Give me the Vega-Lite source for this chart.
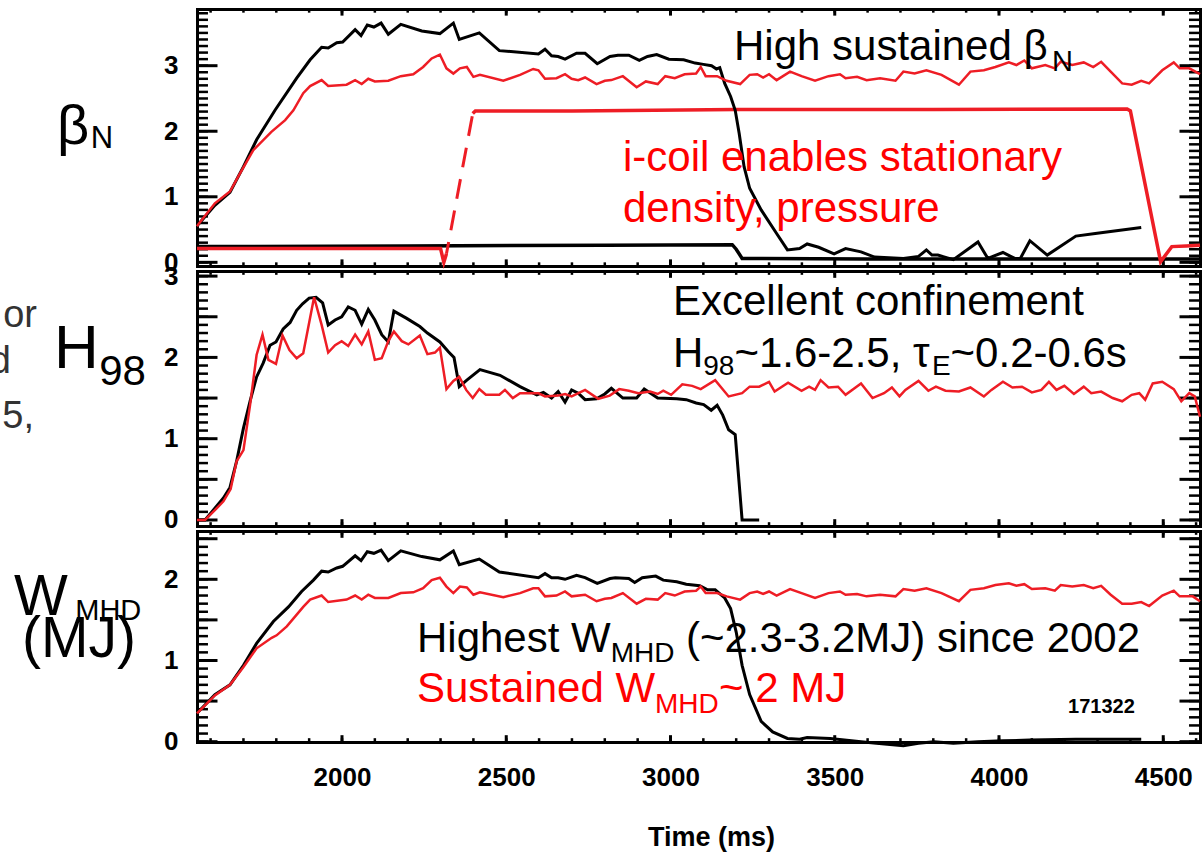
{
  "$schema": "https://vega.github.io/schema/vega-lite/v6.json",
  "autosize": "none",
  "width": 1003,
  "height": 733,
  "padding": {"left": 197, "top": 9, "right": 2, "bottom": 110},
  "background": "white",
  "config": {
    "view": {"stroke": null},
    "axis": {"grid": false, "domainColor": "#000", "domainWidth": 3, "domainCap": "square", "ticks": false, "tickSize": 0, "labelColor": "#000", "labelFont": "Liberation Sans", "labelFontSize": 26, "labelFontWeight": "bold", "labelFlush": false, "labelOverlap": false, "zindex": 1, "titleColor": "#000", "title": null}
  },
  "datasets": {
    "xmaj": [{"t":2000},{"t":2500},{"t":3000},{"t":3500},{"t":4000},{"t":4500}],
    "xmin": [{"t":1600},{"t":1700},{"t":1800},{"t":1900},{"t":2000},{"t":2100},{"t":2200},{"t":2300},{"t":2400},{"t":2500},{"t":2600},{"t":2700},{"t":2800},{"t":2900},{"t":3000},{"t":3100},{"t":3200},{"t":3300},{"t":3400},{"t":3500},{"t":3600},{"t":3700},{"t":3800},{"t":3900},{"t":4000},{"t":4100},{"t":4200},{"t":4300},{"t":4400},{"t":4500},{"t":4600}],
    "y1maj": [{"v":0},{"v":1},{"v":2},{"v":3}],
    "y1min": [{"v":0},{"v":0.1},{"v":0.2},{"v":0.3},{"v":0.4},{"v":0.5},{"v":0.6},{"v":0.7},{"v":0.8},{"v":0.9},{"v":1},{"v":1.1},{"v":1.2},{"v":1.3},{"v":1.4},{"v":1.5},{"v":1.6},{"v":1.7},{"v":1.8},{"v":1.9},{"v":2},{"v":2.1},{"v":2.2},{"v":2.3},{"v":2.4},{"v":2.5},{"v":2.6},{"v":2.7},{"v":2.8},{"v":2.9},{"v":3},{"v":3.1},{"v":3.2},{"v":3.3},{"v":3.4},{"v":3.5},{"v":3.6},{"v":3.7},{"v":3.8}],
    "y2maj": [{"v":0},{"v":0.5},{"v":1},{"v":1.5},{"v":2},{"v":2.5},{"v":3}],
    "y2min": [{"v":0},{"v":0.1},{"v":0.2},{"v":0.3},{"v":0.4},{"v":0.5},{"v":0.6},{"v":0.7},{"v":0.8},{"v":0.9},{"v":1},{"v":1.1},{"v":1.2},{"v":1.3},{"v":1.4},{"v":1.5},{"v":1.6},{"v":1.7},{"v":1.8},{"v":1.9},{"v":2},{"v":2.1},{"v":2.2},{"v":2.3},{"v":2.4},{"v":2.5},{"v":2.6},{"v":2.7},{"v":2.8},{"v":2.9},{"v":3}],
    "y3maj": [{"v":0},{"v":0.5},{"v":1},{"v":1.5},{"v":2},{"v":2.5}],
    "y3min": [{"v":0},{"v":0.1},{"v":0.2},{"v":0.3},{"v":0.4},{"v":0.5},{"v":0.6},{"v":0.7},{"v":0.8},{"v":0.9},{"v":1},{"v":1.1},{"v":1.2},{"v":1.3},{"v":1.4},{"v":1.5},{"v":1.6},{"v":1.7},{"v":1.8},{"v":1.9},{"v":2},{"v":2.1},{"v":2.2},{"v":2.3},{"v":2.4},{"v":2.5}],
    "bnBlack": [{"t":1558.6,"v":0.57},{"t":1563,"v":0.58},{"t":1613,"v":0.87},{"t":1659,"v":1.07},{"t":1700,"v":1.46},{"t":1740,"v":1.87},{"t":1796,"v":2.32},{"t":1862,"v":2.81},{"t":1903,"v":3.09},{"t":1938,"v":3.28},{"t":1958,"v":3.27},{"t":1984,"v":3.35},{"t":2002,"v":3.36},{"t":2040,"v":3.55},{"t":2058,"v":3.46},{"t":2077,"v":3.62},{"t":2097,"v":3.59},{"t":2119,"v":3.65},{"t":2141,"v":3.48},{"t":2179,"v":3.63},{"t":2243,"v":3.53},{"t":2298,"v":3.49},{"t":2339,"v":3.65},{"t":2357,"v":3.40},{"t":2418,"v":3.50},{"t":2479,"v":3.23},{"t":2598,"v":3.18},{"t":2618,"v":3.25},{"t":2638,"v":3.15},{"t":2658,"v":3.14},{"t":2679,"v":3.10},{"t":2714,"v":3.19},{"t":2740,"v":3.19},{"t":2777,"v":3.03},{"t":2816,"v":3.14},{"t":2840,"v":3.16},{"t":2873,"v":3.16},{"t":2905,"v":3.08},{"t":2930,"v":3.14},{"t":2958,"v":3.17},{"t":2995,"v":3.10},{"t":3040,"v":3.09},{"t":3075,"v":3.04},{"t":3100,"v":3.02},{"t":3125,"v":3.00},{"t":3140,"v":2.95},{"t":3150,"v":2.97},{"t":3165,"v":2.73},{"t":3183,"v":2.53},{"t":3197,"v":2.32},{"t":3209,"v":1.97},{"t":3224,"v":1.46},{"t":3241,"v":1.13},{"t":3276,"v":0.80},{"t":3323,"v":0.44},{"t":3356,"v":0.19},{"t":3393,"v":0.21},{"t":3416,"v":0.28},{"t":3451,"v":0.23},{"t":3498,"v":0.13},{"t":3533,"v":0.21},{"t":3580,"v":0.16},{"t":3621,"v":0.08},{"t":3709,"v":0.06},{"t":3755,"v":0.09},{"t":3779,"v":0.19},{"t":3796,"v":0.11},{"t":3814,"v":0.11},{"t":3861,"v":0.04},{"t":3936,"v":0.31},{"t":3966,"v":0.06},{"t":4012,"v":0.15},{"t":4048,"v":0.06},{"t":4065,"v":0.06},{"t":4094,"v":0.33},{"t":4147,"v":0.11},{"t":4234,"v":0.40},{"t":4293,"v":0.44},{"t":4433,"v":0.53}],
    "bnRed": [{"t":1558.6,"v":0.55},{"t":1563,"v":0.58},{"t":1613,"v":0.90},{"t":1659,"v":1.08},{"t":1690,"v":1.36},{"t":1730,"v":1.71},{"t":1785,"v":1.99},{"t":1827,"v":2.17},{"t":1852,"v":2.32},{"t":1882,"v":2.58},{"t":1903,"v":2.69},{"t":1938,"v":2.78},{"t":1958,"v":2.69},{"t":2014,"v":2.71},{"t":2040,"v":2.78},{"t":2060,"v":2.72},{"t":2080,"v":2.80},{"t":2100,"v":2.76},{"t":2141,"v":2.77},{"t":2179,"v":2.84},{"t":2217,"v":2.87},{"t":2247,"v":2.98},{"t":2273,"v":3.11},{"t":2298,"v":3.17},{"t":2318,"v":2.96},{"t":2339,"v":2.88},{"t":2359,"v":2.96},{"t":2380,"v":2.98},{"t":2400,"v":2.83},{"t":2420,"v":2.86},{"t":2491,"v":2.77},{"t":2542,"v":2.86},{"t":2582,"v":2.95},{"t":2598,"v":2.93},{"t":2618,"v":2.80},{"t":2653,"v":2.81},{"t":2679,"v":2.87},{"t":2699,"v":2.80},{"t":2719,"v":2.78},{"t":2740,"v":2.82},{"t":2775,"v":2.72},{"t":2800,"v":2.77},{"t":2820,"v":2.78},{"t":2855,"v":2.84},{"t":2897,"v":2.67},{"t":2925,"v":2.76},{"t":2961,"v":2.72},{"t":2984,"v":2.84},{"t":3013,"v":2.81},{"t":3043,"v":2.87},{"t":3078,"v":2.88},{"t":3092,"v":2.98},{"t":3107,"v":2.84},{"t":3142,"v":2.84},{"t":3171,"v":2.77},{"t":3212,"v":2.72},{"t":3241,"v":2.86},{"t":3264,"v":2.87},{"t":3282,"v":2.82},{"t":3300,"v":2.87},{"t":3323,"v":2.78},{"t":3364,"v":2.91},{"t":3399,"v":2.84},{"t":3440,"v":2.77},{"t":3481,"v":2.84},{"t":3516,"v":2.87},{"t":3533,"v":2.81},{"t":3568,"v":2.83},{"t":3597,"v":2.78},{"t":3638,"v":2.81},{"t":3685,"v":2.77},{"t":3709,"v":2.91},{"t":3743,"v":2.88},{"t":3779,"v":2.93},{"t":3825,"v":2.86},{"t":3878,"v":2.71},{"t":3913,"v":2.91},{"t":3954,"v":2.93},{"t":3989,"v":2.98},{"t":4030,"v":3.05},{"t":4053,"v":3.01},{"t":4077,"v":3.08},{"t":4100,"v":2.96},{"t":4141,"v":3.01},{"t":4170,"v":2.96},{"t":4188,"v":3.06},{"t":4223,"v":3.01},{"t":4258,"v":3.05},{"t":4287,"v":2.98},{"t":4311,"v":3.06},{"t":4340,"v":2.91},{"t":4375,"v":2.73},{"t":4404,"v":2.71},{"t":4433,"v":2.77},{"t":4457,"v":2.73},{"t":4497,"v":2.93},{"t":4532,"v":3.05},{"t":4550,"v":2.96},{"t":4579,"v":2.96},{"t":4611.9,"v":2.87}],
    "bnNoise": [{"t":1558.6,"v":0.24},{"t":2200,"v":0.25},{"t":2800,"v":0.26},{"t":3188,"v":0.27},{"t":3200,"v":0.20},{"t":3218,"v":0.06},{"t":3600,"v":0.05},{"t":4200,"v":0.05},{"t":4611.9,"v":0.05}],
    "icoil": [{"t":1558.6,"v":0.21,"seg":"a"},{"t":2000,"v":0.21,"seg":"a"},{"t":2300,"v":0.21,"seg":"a"},{"t":2310,"v":0.0,"seg":"a"},{"t":2318,"v":0.13,"seg":"a"},{"t":2398,"v":2.27,"seg":"b"},{"t":2406,"v":2.31,"seg":"b"},{"t":2700,"v":2.31,"seg":"b"},{"t":3200,"v":2.33,"seg":"b"},{"t":3800,"v":2.33,"seg":"b"},{"t":4390,"v":2.34,"seg":"b"},{"t":4400,"v":2.31,"seg":"b"},{"t":4492,"v":0.01,"seg":"b"},{"t":4526,"v":0.24,"seg":"b"},{"t":4570,"v":0.25,"seg":"b"},{"t":4611.9,"v":0.26,"seg":"b"}],
    "icoilDash": [{"t":2318,"v":0.13},{"t":2398,"v":2.27}],
    "h98Black": [{"t":1558.6,"v":0},{"t":1583,"v":0},{"t":1608,"v":0.12},{"t":1639,"v":0.27},{"t":1659,"v":0.40},{"t":1679,"v":0.72},{"t":1700,"v":1.13},{"t":1720,"v":1.46},{"t":1740,"v":1.76},{"t":1760,"v":1.93},{"t":1781,"v":2.15},{"t":1799,"v":2.19},{"t":1821,"v":2.35},{"t":1842,"v":2.43},{"t":1862,"v":2.58},{"t":1880,"v":2.66},{"t":1900,"v":2.73},{"t":1921,"v":2.74},{"t":1941,"v":2.67},{"t":1958,"v":2.40},{"t":1979,"v":2.46},{"t":1999,"v":2.50},{"t":2019,"v":2.62},{"t":2040,"v":2.58},{"t":2060,"v":2.41},{"t":2080,"v":2.59},{"t":2100,"v":2.46},{"t":2121,"v":2.28},{"t":2141,"v":2.19},{"t":2158,"v":2.57},{"t":2197,"v":2.48},{"t":2237,"v":2.38},{"t":2260,"v":2.30},{"t":2298,"v":2.19},{"t":2324,"v":2.07},{"t":2341,"v":2.00},{"t":2357,"v":1.64},{"t":2380,"v":1.72},{"t":2420,"v":1.85},{"t":2481,"v":1.78},{"t":2542,"v":1.64},{"t":2593,"v":1.54},{"t":2613,"v":1.57},{"t":2638,"v":1.50},{"t":2658,"v":1.58},{"t":2679,"v":1.45},{"t":2699,"v":1.60},{"t":2719,"v":1.56},{"t":2740,"v":1.48},{"t":2775,"v":1.49},{"t":2800,"v":1.55},{"t":2820,"v":1.62},{"t":2855,"v":1.50},{"t":2897,"v":1.50},{"t":2920,"v":1.61},{"t":2961,"v":1.50},{"t":3019,"v":1.49},{"t":3048,"v":1.48},{"t":3078,"v":1.44},{"t":3101,"v":1.42},{"t":3124,"v":1.35},{"t":3142,"v":1.41},{"t":3159,"v":1.29},{"t":3177,"v":1.11},{"t":3197,"v":1.05},{"t":3218,"v":0},{"t":3270,"v":0}],
    "h98Red": [{"t":1558.6,"v":0},{"t":1583,"v":0},{"t":1613,"v":0.12},{"t":1639,"v":0.23},{"t":1661,"v":0.38},{"t":1679,"v":0.72},{"t":1700,"v":0.86},{"t":1720,"v":1.41},{"t":1740,"v":2.03},{"t":1758,"v":2.28},{"t":1776,"v":1.97},{"t":1799,"v":1.92},{"t":1819,"v":2.27},{"t":1840,"v":2.09},{"t":1862,"v":1.99},{"t":1882,"v":2.05},{"t":1915,"v":2.74},{"t":1938,"v":2.40},{"t":1958,"v":2.06},{"t":1979,"v":2.15},{"t":1999,"v":2.20},{"t":2019,"v":2.14},{"t":2040,"v":2.28},{"t":2060,"v":2.16},{"t":2080,"v":2.32},{"t":2100,"v":1.97},{"t":2121,"v":1.99},{"t":2141,"v":2.20},{"t":2158,"v":2.32},{"t":2182,"v":2.20},{"t":2202,"v":2.16},{"t":2237,"v":2.27},{"t":2260,"v":2.04},{"t":2283,"v":2.06},{"t":2298,"v":2.12},{"t":2318,"v":1.61},{"t":2339,"v":1.71},{"t":2357,"v":1.76},{"t":2378,"v":1.60},{"t":2398,"v":1.50},{"t":2418,"v":1.61},{"t":2438,"v":1.54},{"t":2459,"v":1.54},{"t":2479,"v":1.54},{"t":2496,"v":1.60},{"t":2520,"v":1.50},{"t":2542,"v":1.56},{"t":2598,"v":1.56},{"t":2618,"v":1.52},{"t":2658,"v":1.53},{"t":2679,"v":1.55},{"t":2699,"v":1.52},{"t":2740,"v":1.60},{"t":2780,"v":1.49},{"t":2815,"v":1.53},{"t":2844,"v":1.61},{"t":2873,"v":1.59},{"t":2902,"v":1.56},{"t":2938,"v":1.58},{"t":2961,"v":1.55},{"t":2978,"v":1.59},{"t":3002,"v":1.54},{"t":3036,"v":1.67},{"t":3066,"v":1.65},{"t":3092,"v":1.61},{"t":3136,"v":1.72},{"t":3177,"v":1.52},{"t":3218,"v":1.56},{"t":3241,"v":1.64},{"t":3270,"v":1.64},{"t":3300,"v":1.70},{"t":3317,"v":1.58},{"t":3358,"v":1.69},{"t":3399,"v":1.59},{"t":3422,"v":1.64},{"t":3440,"v":1.60},{"t":3457,"v":1.72},{"t":3481,"v":1.63},{"t":3510,"v":1.64},{"t":3533,"v":1.54},{"t":3580,"v":1.68},{"t":3615,"v":1.50},{"t":3650,"v":1.56},{"t":3674,"v":1.63},{"t":3697,"v":1.52},{"t":3715,"v":1.60},{"t":3755,"v":1.71},{"t":3785,"v":1.59},{"t":3808,"v":1.64},{"t":3837,"v":1.59},{"t":3878,"v":1.58},{"t":3913,"v":1.63},{"t":3954,"v":1.52},{"t":3977,"v":1.60},{"t":4012,"v":1.70},{"t":4041,"v":1.63},{"t":4070,"v":1.64},{"t":4100,"v":1.57},{"t":4129,"v":1.60},{"t":4152,"v":1.70},{"t":4175,"v":1.60},{"t":4199,"v":1.65},{"t":4228,"v":1.55},{"t":4258,"v":1.64},{"t":4281,"v":1.56},{"t":4311,"v":1.58},{"t":4346,"v":1.50},{"t":4375,"v":1.46},{"t":4404,"v":1.54},{"t":4427,"v":1.56},{"t":4445,"v":1.48},{"t":4468,"v":1.68},{"t":4497,"v":1.70},{"t":4532,"v":1.61},{"t":4555,"v":1.46},{"t":4579,"v":1.56},{"t":4596,"v":1.52},{"t":4611.9,"v":1.27}],
    "wBlack": [{"t":1558.6,"v":0.35},{"t":1613,"v":0.58},{"t":1659,"v":0.70},{"t":1700,"v":0.94},{"t":1740,"v":1.21},{"t":1791,"v":1.48},{"t":1837,"v":1.66},{"t":1877,"v":1.85},{"t":1913,"v":1.99},{"t":1938,"v":2.10},{"t":1958,"v":2.09},{"t":1984,"v":2.14},{"t":2002,"v":2.16},{"t":2040,"v":2.29},{"t":2058,"v":2.23},{"t":2077,"v":2.34},{"t":2097,"v":2.32},{"t":2119,"v":2.36},{"t":2141,"v":2.23},{"t":2179,"v":2.35},{"t":2243,"v":2.28},{"t":2298,"v":2.24},{"t":2339,"v":2.35},{"t":2357,"v":2.18},{"t":2418,"v":2.25},{"t":2479,"v":2.09},{"t":2598,"v":2.02},{"t":2618,"v":2.07},{"t":2638,"v":2.02},{"t":2658,"v":2.02},{"t":2679,"v":2.00},{"t":2714,"v":2.05},{"t":2740,"v":2.02},{"t":2777,"v":1.95},{"t":2816,"v":2.01},{"t":2832,"v":2.02},{"t":2873,"v":2.01},{"t":2891,"v":1.96},{"t":2914,"v":2.02},{"t":2955,"v":2.04},{"t":2978,"v":1.99},{"t":3019,"v":1.97},{"t":3048,"v":1.94},{"t":3089,"v":1.92},{"t":3113,"v":1.87},{"t":3136,"v":1.87},{"t":3165,"v":1.77},{"t":3183,"v":1.64},{"t":3200,"v":1.35},{"t":3218,"v":0.94},{"t":3241,"v":0.58},{"t":3276,"v":0.25},{"t":3311,"v":0.12},{"t":3356,"v":0.04},{"t":3393,"v":0.03},{"t":3416,"v":0.05},{"t":3486,"v":0.04},{"t":3580,"v":0.0},{"t":3627,"v":-0.02},{"t":3709,"v":-0.05},{"t":3755,"v":-0.02},{"t":3802,"v":0.0},{"t":3861,"v":-0.02},{"t":3936,"v":0.0},{"t":4012,"v":0.01},{"t":4094,"v":0.02},{"t":4234,"v":0.03},{"t":4433,"v":0.03}],
    "wRed": [{"t":1558.6,"v":0.35},{"t":1613,"v":0.57},{"t":1659,"v":0.70},{"t":1700,"v":0.92},{"t":1740,"v":1.15},{"t":1786,"v":1.28},{"t":1801,"v":1.31},{"t":1832,"v":1.42},{"t":1857,"v":1.54},{"t":1882,"v":1.66},{"t":1903,"v":1.75},{"t":1938,"v":1.80},{"t":1958,"v":1.72},{"t":2014,"v":1.75},{"t":2040,"v":1.80},{"t":2060,"v":1.75},{"t":2080,"v":1.81},{"t":2100,"v":1.77},{"t":2141,"v":1.77},{"t":2179,"v":1.83},{"t":2217,"v":1.84},{"t":2247,"v":1.89},{"t":2273,"v":1.99},{"t":2298,"v":2.02},{"t":2318,"v":1.91},{"t":2339,"v":1.83},{"t":2359,"v":1.91},{"t":2380,"v":1.90},{"t":2400,"v":1.81},{"t":2420,"v":1.84},{"t":2491,"v":1.78},{"t":2542,"v":1.83},{"t":2582,"v":1.89},{"t":2598,"v":1.89},{"t":2618,"v":1.79},{"t":2653,"v":1.80},{"t":2679,"v":1.85},{"t":2699,"v":1.79},{"t":2740,"v":1.81},{"t":2775,"v":1.73},{"t":2800,"v":1.76},{"t":2820,"v":1.77},{"t":2855,"v":1.83},{"t":2897,"v":1.70},{"t":2925,"v":1.76},{"t":2961,"v":1.75},{"t":2984,"v":1.83},{"t":3013,"v":1.80},{"t":3043,"v":1.85},{"t":3078,"v":1.86},{"t":3092,"v":1.91},{"t":3107,"v":1.83},{"t":3142,"v":1.83},{"t":3171,"v":1.79},{"t":3212,"v":1.75},{"t":3241,"v":1.83},{"t":3264,"v":1.85},{"t":3282,"v":1.82},{"t":3300,"v":1.85},{"t":3323,"v":1.80},{"t":3364,"v":1.88},{"t":3399,"v":1.83},{"t":3440,"v":1.77},{"t":3481,"v":1.83},{"t":3516,"v":1.85},{"t":3533,"v":1.81},{"t":3568,"v":1.82},{"t":3597,"v":1.79},{"t":3638,"v":1.81},{"t":3685,"v":1.79},{"t":3709,"v":1.88},{"t":3743,"v":1.86},{"t":3779,"v":1.89},{"t":3825,"v":1.83},{"t":3878,"v":1.73},{"t":3913,"v":1.87},{"t":3954,"v":1.89},{"t":3989,"v":1.93},{"t":4030,"v":1.95},{"t":4053,"v":1.92},{"t":4077,"v":1.94},{"t":4100,"v":1.88},{"t":4141,"v":1.89},{"t":4170,"v":1.86},{"t":4188,"v":1.93},{"t":4223,"v":1.91},{"t":4258,"v":1.93},{"t":4287,"v":1.89},{"t":4311,"v":1.92},{"t":4340,"v":1.81},{"t":4375,"v":1.70},{"t":4404,"v":1.70},{"t":4433,"v":1.72},{"t":4457,"v":1.67},{"t":4497,"v":1.80},{"t":4532,"v":1.86},{"t":4550,"v":1.79},{"t":4590,"v":1.79},{"t":4611.9,"v":1.73}]
  },
  "resolve": {"scale": {"y": "independent"}, "axis": {"x": "independent", "y": "independent"}},
  "layer": [
    {"data": {"name": "y1maj"}, "mark": {"type": "rule", "color": "#000", "strokeWidth": 3},
     "encoding": {"y": {"field": "v", "type": "quantitative", "scale": {"domain": [-0.056, 3.865], "range": [257, 0], "nice": false, "zero": false}, "axis": null},
                  "x": {"datum": 1558.6, "type": "quantitative", "scale": {"domain": [1558.6, 4611.9], "nice": false, "zero": false}, "axis": null}, "x2": {"datum": 1621}}},
    {"data": {"name": "y1min"}, "mark": {"type": "rule", "color": "#000", "strokeWidth": 2.5},
     "encoding": {"y": {"field": "v", "type": "quantitative", "scale": {"domain": [-0.056, 3.865], "range": [257, 0], "nice": false, "zero": false}, "axis": null},
                  "x": {"datum": 1558.6, "type": "quantitative", "scale": {"domain": [1558.6, 4611.9], "nice": false, "zero": false}, "axis": null}, "x2": {"datum": 1592}}},
    {"data": {"name": "y1maj"}, "mark": {"type": "rule", "color": "#000", "strokeWidth": 3},
     "encoding": {"y": {"field": "v", "type": "quantitative", "scale": {"domain": [-0.056, 3.865], "range": [257, 0], "nice": false, "zero": false}, "axis": null},
                  "x": {"datum": 4611.9, "type": "quantitative", "scale": {"domain": [1558.6, 4611.9], "nice": false, "zero": false}, "axis": null}, "x2": {"datum": 4549.5}}},
    {"data": {"name": "y1min"}, "mark": {"type": "rule", "color": "#000", "strokeWidth": 2.5},
     "encoding": {"y": {"field": "v", "type": "quantitative", "scale": {"domain": [-0.056, 3.865], "range": [257, 0], "nice": false, "zero": false}, "axis": null},
                  "x": {"datum": 4611.9, "type": "quantitative", "scale": {"domain": [1558.6, 4611.9], "nice": false, "zero": false}, "axis": null}, "x2": {"datum": 4578.5}}},
    {"data": {"name": "xmaj"}, "mark": {"type": "rule", "color": "#000", "strokeWidth": 3},
     "encoding": {"x": {"field": "t", "type": "quantitative", "scale": {"domain": [1558.6, 4611.9], "nice": false, "zero": false}, "axis": null},
                  "y": {"datum": -0.056, "type": "quantitative", "scale": {"domain": [-0.056, 3.865], "range": [257, 0], "nice": false, "zero": false}, "axis": null}, "y2": {"datum": 0.045}}},
    {"data": {"name": "xmin"}, "mark": {"type": "rule", "color": "#000", "strokeWidth": 2.5},
     "encoding": {"x": {"field": "t", "type": "quantitative", "scale": {"domain": [1558.6, 4611.9], "nice": false, "zero": false}, "axis": null},
                  "y": {"datum": -0.056, "type": "quantitative", "scale": {"domain": [-0.056, 3.865], "range": [257, 0], "nice": false, "zero": false}, "axis": null}, "y2": {"datum": 0.0}}},
    {"data": {"name": "xmaj"}, "mark": {"type": "rule", "color": "#000", "strokeWidth": 3},
     "encoding": {"x": {"field": "t", "type": "quantitative", "scale": {"domain": [1558.6, 4611.9], "nice": false, "zero": false}, "axis": null},
                  "y": {"datum": 3.865, "type": "quantitative", "scale": {"domain": [-0.056, 3.865], "range": [257, 0], "nice": false, "zero": false}, "axis": null}, "y2": {"datum": 3.764}}},
    {"data": {"name": "xmin"}, "mark": {"type": "rule", "color": "#000", "strokeWidth": 2.5},
     "encoding": {"x": {"field": "t", "type": "quantitative", "scale": {"domain": [1558.6, 4611.9], "nice": false, "zero": false}, "axis": null},
                  "y": {"datum": 3.865, "type": "quantitative", "scale": {"domain": [-0.056, 3.865], "range": [257, 0], "nice": false, "zero": false}, "axis": null}, "y2": {"datum": 3.809}}},
    {"data": {"name": "y2maj"}, "mark": {"type": "rule", "color": "#000", "strokeWidth": 3},
     "encoding": {"y": {"field": "v", "type": "quantitative", "scale": {"domain": [-0.074, 3.063], "range": [517, 262], "nice": false, "zero": false}, "axis": null},
                  "x": {"datum": 1558.6, "type": "quantitative", "scale": {"domain": [1558.6, 4611.9], "nice": false, "zero": false}, "axis": null}, "x2": {"datum": 1621}}},
    {"data": {"name": "y2min"}, "mark": {"type": "rule", "color": "#000", "strokeWidth": 2.5},
     "encoding": {"y": {"field": "v", "type": "quantitative", "scale": {"domain": [-0.074, 3.063], "range": [517, 262], "nice": false, "zero": false}, "axis": null},
                  "x": {"datum": 1558.6, "type": "quantitative", "scale": {"domain": [1558.6, 4611.9], "nice": false, "zero": false}, "axis": null}, "x2": {"datum": 1592}}},
    {"data": {"name": "y2maj"}, "mark": {"type": "rule", "color": "#000", "strokeWidth": 3},
     "encoding": {"y": {"field": "v", "type": "quantitative", "scale": {"domain": [-0.074, 3.063], "range": [517, 262], "nice": false, "zero": false}, "axis": null},
                  "x": {"datum": 4611.9, "type": "quantitative", "scale": {"domain": [1558.6, 4611.9], "nice": false, "zero": false}, "axis": null}, "x2": {"datum": 4549.5}}},
    {"data": {"name": "y2min"}, "mark": {"type": "rule", "color": "#000", "strokeWidth": 2.5},
     "encoding": {"y": {"field": "v", "type": "quantitative", "scale": {"domain": [-0.074, 3.063], "range": [517, 262], "nice": false, "zero": false}, "axis": null},
                  "x": {"datum": 4611.9, "type": "quantitative", "scale": {"domain": [1558.6, 4611.9], "nice": false, "zero": false}, "axis": null}, "x2": {"datum": 4578.5}}},
    {"data": {"name": "xmaj"}, "mark": {"type": "rule", "color": "#000", "strokeWidth": 3},
     "encoding": {"x": {"field": "t", "type": "quantitative", "scale": {"domain": [1558.6, 4611.9], "nice": false, "zero": false}, "axis": null},
                  "y": {"datum": -0.074, "type": "quantitative", "scale": {"domain": [-0.074, 3.063], "range": [517, 262], "nice": false, "zero": false}, "axis": null}, "y2": {"datum": 0.01}}},
    {"data": {"name": "xmin"}, "mark": {"type": "rule", "color": "#000", "strokeWidth": 2.5},
     "encoding": {"x": {"field": "t", "type": "quantitative", "scale": {"domain": [1558.6, 4611.9], "nice": false, "zero": false}, "axis": null},
                  "y": {"datum": -0.074, "type": "quantitative", "scale": {"domain": [-0.074, 3.063], "range": [517, 262], "nice": false, "zero": false}, "axis": null}, "y2": {"datum": -0.027}}},
    {"data": {"name": "xmaj"}, "mark": {"type": "rule", "color": "#000", "strokeWidth": 3},
     "encoding": {"x": {"field": "t", "type": "quantitative", "scale": {"domain": [1558.6, 4611.9], "nice": false, "zero": false}, "axis": null},
                  "y": {"datum": 3.063, "type": "quantitative", "scale": {"domain": [-0.074, 3.063], "range": [517, 262], "nice": false, "zero": false}, "axis": null}, "y2": {"datum": 2.979}}},
    {"data": {"name": "xmin"}, "mark": {"type": "rule", "color": "#000", "strokeWidth": 2.5},
     "encoding": {"x": {"field": "t", "type": "quantitative", "scale": {"domain": [1558.6, 4611.9], "nice": false, "zero": false}, "axis": null},
                  "y": {"datum": 3.063, "type": "quantitative", "scale": {"domain": [-0.074, 3.063], "range": [517, 262], "nice": false, "zero": false}, "axis": null}, "y2": {"datum": 3.016}}},
    {"data": {"name": "y3maj"}, "mark": {"type": "rule", "color": "#000", "strokeWidth": 3},
     "encoding": {"y": {"field": "v", "type": "quantitative", "scale": {"domain": [-0.004, 2.595], "range": [733, 522], "nice": false, "zero": false}, "axis": null},
                  "x": {"datum": 1558.6, "type": "quantitative", "scale": {"domain": [1558.6, 4611.9], "nice": false, "zero": false}, "axis": null}, "x2": {"datum": 1621}}},
    {"data": {"name": "y3min"}, "mark": {"type": "rule", "color": "#000", "strokeWidth": 2.5},
     "encoding": {"y": {"field": "v", "type": "quantitative", "scale": {"domain": [-0.004, 2.595], "range": [733, 522], "nice": false, "zero": false}, "axis": null},
                  "x": {"datum": 1558.6, "type": "quantitative", "scale": {"domain": [1558.6, 4611.9], "nice": false, "zero": false}, "axis": null}, "x2": {"datum": 1592}}},
    {"data": {"name": "y3maj"}, "mark": {"type": "rule", "color": "#000", "strokeWidth": 3},
     "encoding": {"y": {"field": "v", "type": "quantitative", "scale": {"domain": [-0.004, 2.595], "range": [733, 522], "nice": false, "zero": false}, "axis": null},
                  "x": {"datum": 4611.9, "type": "quantitative", "scale": {"domain": [1558.6, 4611.9], "nice": false, "zero": false}, "axis": null}, "x2": {"datum": 4549.5}}},
    {"data": {"name": "y3min"}, "mark": {"type": "rule", "color": "#000", "strokeWidth": 2.5},
     "encoding": {"y": {"field": "v", "type": "quantitative", "scale": {"domain": [-0.004, 2.595], "range": [733, 522], "nice": false, "zero": false}, "axis": null},
                  "x": {"datum": 4611.9, "type": "quantitative", "scale": {"domain": [1558.6, 4611.9], "nice": false, "zero": false}, "axis": null}, "x2": {"datum": 4578.5}}},
    {"data": {"name": "xmaj"}, "mark": {"type": "rule", "color": "#000", "strokeWidth": 3},
     "encoding": {"x": {"field": "t", "type": "quantitative", "scale": {"domain": [1558.6, 4611.9], "nice": false, "zero": false}, "axis": null},
                  "y": {"datum": -0.004, "type": "quantitative", "scale": {"domain": [-0.004, 2.595], "range": [733, 522], "nice": false, "zero": false}, "axis": null}, "y2": {"datum": 0.08}}},
    {"data": {"name": "xmin"}, "mark": {"type": "rule", "color": "#000", "strokeWidth": 2.5},
     "encoding": {"x": {"field": "t", "type": "quantitative", "scale": {"domain": [1558.6, 4611.9], "nice": false, "zero": false}, "axis": null},
                  "y": {"datum": -0.004, "type": "quantitative", "scale": {"domain": [-0.004, 2.595], "range": [733, 522], "nice": false, "zero": false}, "axis": null}, "y2": {"datum": 0.043}}},
    {"data": {"name": "xmaj"}, "mark": {"type": "rule", "color": "#000", "strokeWidth": 3},
     "encoding": {"x": {"field": "t", "type": "quantitative", "scale": {"domain": [1558.6, 4611.9], "nice": false, "zero": false}, "axis": null},
                  "y": {"datum": 2.595, "type": "quantitative", "scale": {"domain": [-0.004, 2.595], "range": [733, 522], "nice": false, "zero": false}, "axis": null}, "y2": {"datum": 2.511}}},
    {"data": {"name": "xmin"}, "mark": {"type": "rule", "color": "#000", "strokeWidth": 2.5},
     "encoding": {"x": {"field": "t", "type": "quantitative", "scale": {"domain": [1558.6, 4611.9], "nice": false, "zero": false}, "axis": null},
                  "y": {"datum": 2.595, "type": "quantitative", "scale": {"domain": [-0.004, 2.595], "range": [733, 522], "nice": false, "zero": false}, "axis": null}, "y2": {"datum": 2.548}}},
    {
      "data": {"name": "bnNoise"},
      "mark": {"type": "line", "color": "#000", "strokeWidth": 3.5},
      "encoding": {
        "x": {"field": "t", "type": "quantitative", "scale": {"domain": [1558.6, 4611.9], "nice": false, "zero": false},
              "axis": {"orient": "bottom", "offset": -476, "labels": false, "values": [2000]}},
        "y": {"field": "v", "type": "quantitative", "scale": {"domain": [-0.056, 3.865], "range": [257, 0], "nice": false, "zero": false},
              "axis": {"orient": "left", "values": [0,1,2,3], "format": "d", "labelPadding": 19}}
      }
    },
    {
      "data": {"name": "icoil"},
      "mark": {"type": "line", "color": "#ee1d25", "strokeWidth": 3.5},
      "encoding": {
        "x": {"field": "t", "type": "quantitative", "scale": {"domain": [1558.6, 4611.9], "nice": false, "zero": false},
              "axis": {"orient": "top", "offset": 0, "labels": false, "values": [2000]}},
        "y": {"field": "v", "type": "quantitative", "scale": {"domain": [-0.056, 3.865], "range": [257, 0], "nice": false, "zero": false},
              "axis": {"orient": "right", "labels": false, "values": [1]}},
        "detail": {"field": "seg"}
      }
    },
    {
      "data": {"name": "icoilDash"},
      "mark": {"type": "line", "color": "#ee1d25", "strokeWidth": 3, "strokeDash": [20, 12], "strokeDashOffset": 8},
      "encoding": {
        "x": {"field": "t", "type": "quantitative", "scale": {"domain": [1558.6, 4611.9], "nice": false, "zero": false}, "axis": null},
        "y": {"field": "v", "type": "quantitative", "scale": {"domain": [-0.056, 3.865], "range": [257, 0], "nice": false, "zero": false}, "axis": null}
      }
    },
    {
      "data": {"name": "bnBlack"},
      "mark": {"type": "line", "color": "#000", "strokeWidth": 3},
      "encoding": {
        "x": {"field": "t", "type": "quantitative", "scale": {"domain": [1558.6, 4611.9], "nice": false, "zero": false}, "axis": null},
        "y": {"field": "v", "type": "quantitative", "scale": {"domain": [-0.056, 3.865], "range": [257, 0], "nice": false, "zero": false}, "axis": null}
      }
    },
    {
      "data": {"name": "bnRed"},
      "mark": {"type": "line", "color": "#ee1d25", "strokeWidth": 2.5},
      "encoding": {
        "x": {"field": "t", "type": "quantitative", "scale": {"domain": [1558.6, 4611.9], "nice": false, "zero": false}, "axis": null},
        "y": {"field": "v", "type": "quantitative", "scale": {"domain": [-0.056, 3.865], "range": [257, 0], "nice": false, "zero": false}, "axis": null}
      }
    },
    {
      "data": {"name": "h98Black"},
      "mark": {"type": "line", "color": "#000", "strokeWidth": 3},
      "encoding": {
        "x": {"field": "t", "type": "quantitative", "scale": {"domain": [1558.6, 4611.9], "nice": false, "zero": false},
              "axis": {"orient": "bottom", "offset": -216, "labels": false, "values": [2000]}},
        "y": {"field": "v", "type": "quantitative", "scale": {"domain": [-0.074, 3.063], "range": [517, 262], "nice": false, "zero": false},
              "axis": {"orient": "left", "values": [0,1,2,3], "format": "d", "labelPadding": 19}}
      }
    },
    {
      "data": {"name": "h98Red"},
      "mark": {"type": "line", "color": "#ee1d25", "strokeWidth": 2.5},
      "encoding": {
        "x": {"field": "t", "type": "quantitative", "scale": {"domain": [1558.6, 4611.9], "nice": false, "zero": false},
              "axis": {"orient": "top", "offset": -262, "labels": false, "values": [2000]}},
        "y": {"field": "v", "type": "quantitative", "scale": {"domain": [-0.074, 3.063], "range": [517, 262], "nice": false, "zero": false},
              "axis": {"orient": "right", "labels": false, "values": [1]}}
      }
    },
    {
      "data": {"name": "wBlack"},
      "mark": {"type": "line", "color": "#000", "strokeWidth": 3},
      "encoding": {
        "x": {"field": "t", "type": "quantitative", "scale": {"domain": [1558.6, 4611.9], "nice": false, "zero": false},
              "axis": {"orient": "bottom", "offset": 0, "values": [2000,2500,3000,3500,4000,4500], "format": "d", "labelPadding": 22, "title": "Time (ms)", "titleFont": "Liberation Sans", "titleFontSize": 27, "titleFontWeight": "bold", "titleX": 514, "titleY": 103, "titleBaseline": "alphabetic", "titleAlign": "center"}},
        "y": {"field": "v", "type": "quantitative", "scale": {"domain": [-0.004, 2.595], "range": [733, 522], "nice": false, "zero": false},
              "axis": {"orient": "left", "values": [0,1,2], "format": "d", "labelPadding": 19}}
      }
    },
    {
      "data": {"name": "wRed"},
      "mark": {"type": "line", "color": "#ee1d25", "strokeWidth": 2.5},
      "encoding": {
        "x": {"field": "t", "type": "quantitative", "scale": {"domain": [1558.6, 4611.9], "nice": false, "zero": false},
              "axis": {"orient": "top", "offset": -522, "labels": false, "values": [2000]}},
        "y": {"field": "v", "type": "quantitative", "scale": {"domain": [-0.004, 2.595], "range": [733, 522], "nice": false, "zero": false},
              "axis": {"orient": "right", "labels": false, "values": [1]}}
      }
    },
    {
      "data": {"values": [{"t":3193.3,"v":3.087,"s":"High sustained β"}]},
      "mark": {"type": "text", "align": "left", "baseline": "alphabetic", "font": "Liberation Sans", "fontSize": 42, "color": "#000"},
      "encoding": {
        "x": {"field": "t", "type": "quantitative", "scale": {"domain": [1558.6, 4611.9], "nice": false, "zero": false}, "axis": null},
        "y": {"field": "v", "type": "quantitative", "scale": {"domain": [-0.056, 3.865], "range": [257, 0], "nice": false, "zero": false}, "axis": null},
        "text": {"field": "s"}
      }
    },
    {
      "data": {"values": [{"t":4161.3,"v":2.924,"s":"N"}]},
      "mark": {"type": "text", "align": "left", "baseline": "alphabetic", "font": "Liberation Sans", "fontSize": 29, "color": "#000"},
      "encoding": {
        "x": {"field": "t", "type": "quantitative", "scale": {"domain": [1558.6, 4611.9], "nice": false, "zero": false}, "axis": null},
        "y": {"field": "v", "type": "quantitative", "scale": {"domain": [-0.056, 3.865], "range": [257, 0], "nice": false, "zero": false}, "axis": null},
        "text": {"field": "s"}
      }
    },
    {
      "data": {"values": [{"t":2855.4,"v":1.393,"s":"i-coil enables stationary"},{"t":2855.4,"v":0.615,"s":"density, pressure"}]},
      "mark": {"type": "text", "align": "left", "baseline": "alphabetic", "font": "Liberation Sans", "fontSize": 42, "color": "#ff0000"},
      "encoding": {
        "x": {"field": "t", "type": "quantitative", "scale": {"domain": [1558.6, 4611.9], "nice": false, "zero": false}, "axis": null},
        "y": {"field": "v", "type": "quantitative", "scale": {"domain": [-0.056, 3.865], "range": [257, 0], "nice": false, "zero": false}, "axis": null},
        "text": {"field": "s"}
      }
    },
    {
      "data": {"values": [{"t":1132.4,"v":1.80,"s":"β"}]},
      "mark": {"type": "text", "align": "left", "baseline": "alphabetic", "font": "Liberation Sans", "fontSize": 56, "color": "#000"},
      "encoding": {
        "x": {"field": "t", "type": "quantitative", "scale": {"domain": [1558.6, 4611.9], "nice": false, "zero": false}, "axis": null},
        "y": {"field": "v", "type": "quantitative", "scale": {"domain": [-0.056, 3.865], "range": [257, 0], "nice": false, "zero": false}, "axis": null},
        "text": {"field": "s"}
      }
    },
    {
      "data": {"values": [{"t":1235,"v":1.744,"s":"N"}]},
      "mark": {"type": "text", "align": "left", "baseline": "alphabetic", "font": "Liberation Sans", "fontSize": 31, "color": "#000"},
      "encoding": {
        "x": {"field": "t", "type": "quantitative", "scale": {"domain": [1558.6, 4611.9], "nice": false, "zero": false}, "axis": null},
        "y": {"field": "v", "type": "quantitative", "scale": {"domain": [-0.056, 3.865], "range": [257, 0], "nice": false, "zero": false}, "axis": null},
        "text": {"field": "s"}
      }
    },
    {
      "data": {"values": [{"t":3007.6,"v":2.521,"s":"Excellent confinement"},{"t":3007.6,"v":1.886,"s":"H"},{"t":3194.5,"v":1.886,"s":"~1.6-2.5, τ"},{"t":3852.6,"v":1.886,"s":"~0.2-0.6s"}]},
      "mark": {"type": "text", "align": "left", "baseline": "alphabetic", "font": "Liberation Sans", "fontSize": 42, "color": "#000"},
      "encoding": {
        "x": {"field": "t", "type": "quantitative", "scale": {"domain": [1558.6, 4611.9], "nice": false, "zero": false}, "axis": null},
        "y": {"field": "v", "type": "quantitative", "scale": {"domain": [-0.074, 3.063], "range": [517, 262], "nice": false, "zero": false}, "axis": null},
        "text": {"field": "s"}
      }
    },
    {
      "data": {"values": [{"t":3099.8,"v":1.784,"s":"98"},{"t":3795.7,"v":1.784,"s":"E"}]},
      "mark": {"type": "text", "align": "left", "baseline": "alphabetic", "font": "Liberation Sans", "fontSize": 28, "color": "#000"},
      "encoding": {
        "x": {"field": "t", "type": "quantitative", "scale": {"domain": [1558.6, 4611.9], "nice": false, "zero": false}, "axis": null},
        "y": {"field": "v", "type": "quantitative", "scale": {"domain": [-0.074, 3.063], "range": [517, 262], "nice": false, "zero": false}, "axis": null},
        "text": {"field": "s"}
      }
    },
    {
      "data": {"values": [{"t":1123.6,"v":1.870,"s":"H"}]},
      "mark": {"type": "text", "align": "left", "baseline": "alphabetic", "font": "Liberation Sans", "fontSize": 62, "color": "#000"},
      "encoding": {
        "x": {"field": "t", "type": "quantitative", "scale": {"domain": [1558.6, 4611.9], "nice": false, "zero": false}, "axis": null},
        "y": {"field": "v", "type": "quantitative", "scale": {"domain": [-0.074, 3.063], "range": [517, 262], "nice": false, "zero": false}, "axis": null},
        "text": {"field": "s"}
      }
    },
    {
      "data": {"values": [{"t":1260.9,"v":1.661,"s":"98"}]},
      "mark": {"type": "text", "align": "left", "baseline": "alphabetic", "font": "Liberation Sans", "fontSize": 42, "color": "#000"},
      "encoding": {
        "x": {"field": "t", "type": "quantitative", "scale": {"domain": [1558.6, 4611.9], "nice": false, "zero": false}, "axis": null},
        "y": {"field": "v", "type": "quantitative", "scale": {"domain": [-0.074, 3.063], "range": [517, 262], "nice": false, "zero": false}, "axis": null},
        "text": {"field": "s"}
      }
    },
    {
      "data": {"values": [{"t":1071.5,"v":2.374,"s":"or"},{"t":992.4,"v":1.808,"s":"d"},{"t":1062.4,"v":1.132,"s":"5,"}]},
      "mark": {"type": "text", "align": "right", "baseline": "alphabetic", "font": "Liberation Sans", "fontSize": 38, "color": "#333333"},
      "encoding": {
        "x": {"field": "t", "type": "quantitative", "scale": {"domain": [1558.6, 4611.9], "nice": false, "zero": false}, "axis": null},
        "y": {"field": "v", "type": "quantitative", "scale": {"domain": [-0.074, 3.063], "range": [517, 262], "nice": false, "zero": false}, "axis": null},
        "text": {"field": "s"}
      }
    },
    {
      "data": {"values": [{"t":2228.3,"v":1.105,"s":"Highest W"},{"t":3047.2,"v":1.105,"s":"(~2.3-3.2MJ) since 2002"}]},
      "mark": {"type": "text", "align": "left", "baseline": "alphabetic", "font": "Liberation Sans", "fontSize": 42, "color": "#000"},
      "encoding": {
        "x": {"field": "t", "type": "quantitative", "scale": {"domain": [1558.6, 4611.9], "nice": false, "zero": false}, "axis": null},
        "y": {"field": "v", "type": "quantitative", "scale": {"domain": [-0.004, 2.595], "range": [733, 522], "nice": false, "zero": false}, "axis": null},
        "text": {"field": "s"}
      }
    },
    {
      "data": {"values": [{"t":2817.9,"v":0.982,"s":"MHD"}]},
      "mark": {"type": "text", "align": "left", "baseline": "alphabetic", "font": "Liberation Sans", "fontSize": 28, "color": "#000"},
      "encoding": {
        "x": {"field": "t", "type": "quantitative", "scale": {"domain": [1558.6, 4611.9], "nice": false, "zero": false}, "axis": null},
        "y": {"field": "v", "type": "quantitative", "scale": {"domain": [-0.004, 2.595], "range": [733, 522], "nice": false, "zero": false}, "axis": null},
        "text": {"field": "s"}
      }
    },
    {
      "data": {"values": [{"t":2228.3,"v":0.489,"s":"Sustained W"},{"t":3147.6,"v":0.489,"s":"~ 2 MJ"}]},
      "mark": {"type": "text", "align": "left", "baseline": "alphabetic", "font": "Liberation Sans", "fontSize": 42, "color": "#ff0000"},
      "encoding": {
        "x": {"field": "t", "type": "quantitative", "scale": {"domain": [1558.6, 4611.9], "nice": false, "zero": false}, "axis": null},
        "y": {"field": "v", "type": "quantitative", "scale": {"domain": [-0.004, 2.595], "range": [733, 522], "nice": false, "zero": false}, "axis": null},
        "text": {"field": "s"}
      }
    },
    {
      "data": {"values": [{"t":2952.8,"v":0.353,"s":"MHD"}]},
      "mark": {"type": "text", "align": "left", "baseline": "alphabetic", "font": "Liberation Sans", "fontSize": 28, "color": "#ff0000"},
      "encoding": {
        "x": {"field": "t", "type": "quantitative", "scale": {"domain": [1558.6, 4611.9], "nice": false, "zero": false}, "axis": null},
        "y": {"field": "v", "type": "quantitative", "scale": {"domain": [-0.004, 2.595], "range": [733, 522], "nice": false, "zero": false}, "axis": null},
        "text": {"field": "s"}
      }
    },
    {
      "data": {"values": [{"t":4312,"v":0.35,"s":"171322"}]},
      "mark": {"type": "text", "align": "center", "baseline": "alphabetic", "font": "Liberation Sans", "fontSize": 20, "fontWeight": "bold", "color": "#000"},
      "encoding": {
        "x": {"field": "t", "type": "quantitative", "scale": {"domain": [1558.6, 4611.9], "nice": false, "zero": false}, "axis": null},
        "y": {"field": "v", "type": "quantitative", "scale": {"domain": [-0.004, 2.595], "range": [733, 522], "nice": false, "zero": false}, "axis": null},
        "text": {"field": "s"}
      }
    },
    {
      "data": {"values": [{"t":1001.5,"v":1.560,"s":"W"},{"t":1025.9,"v":1.043,"s":"(MJ)"}]},
      "mark": {"type": "text", "align": "left", "baseline": "alphabetic", "font": "Liberation Sans", "fontSize": 57, "color": "#000"},
      "encoding": {
        "x": {"field": "t", "type": "quantitative", "scale": {"domain": [1558.6, 4611.9], "nice": false, "zero": false}, "axis": null},
        "y": {"field": "v", "type": "quantitative", "scale": {"domain": [-0.004, 2.595], "range": [733, 522], "nice": false, "zero": false}, "axis": null},
        "text": {"field": "s"}
      }
    },
    {
      "data": {"values": [{"t":1188,"v":1.499,"s":"MHD"}]},
      "mark": {"type": "text", "align": "left", "baseline": "alphabetic", "font": "Liberation Sans", "fontSize": 29, "color": "#000"},
      "encoding": {
        "x": {"field": "t", "type": "quantitative", "scale": {"domain": [1558.6, 4611.9], "nice": false, "zero": false}, "axis": null},
        "y": {"field": "v", "type": "quantitative", "scale": {"domain": [-0.004, 2.595], "range": [733, 522], "nice": false, "zero": false}, "axis": null},
        "text": {"field": "s"}
      }
    }
  ]
}
